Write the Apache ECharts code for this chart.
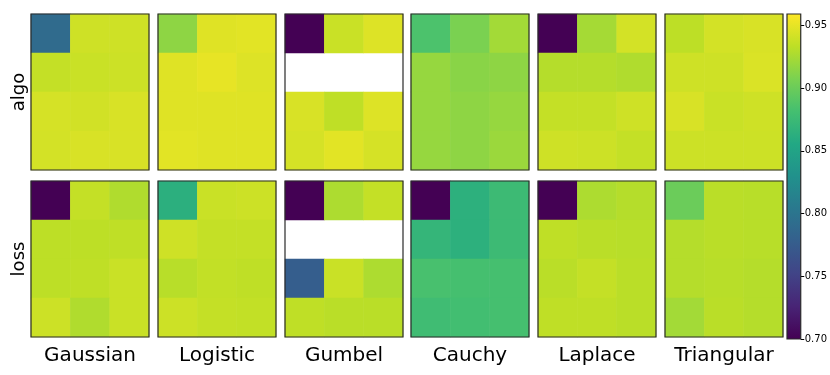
<!DOCTYPE html>
<html>
<head>
<meta charset="utf-8">
<script src="https://cdn.jsdelivr.net/npm/echarts@6/dist/echarts.min.js"></script>
<style>
  html, body { margin: 0; padding: 0; background: #fff; }
</style>
</head>
<body>
<div id="chart" style="width: 830px; height: 375px"></div>
<script>
// distributions (columns) and the two row groups
const distributions = ["Gaussian", "Logistic", "Gumbel", "Cauchy", "Laplace", "Triangular"];
const rowNames = ["algo", "loss"];
const colorbarTicks = [0.70, 0.75, 0.80, 0.85, 0.90, 0.95];

// every panel: 4 rows x 3 cols, null = missing cell
const algo_Gaussian = [
  [0.790, 0.940, 0.940],
  [0.936, 0.938, 0.939],
  [0.943, 0.941, 0.944],
  [0.942, 0.944, 0.944],
];
const algo_Logistic = [
  [0.915, 0.947, 0.948],
  [0.947, 0.950, 0.946],
  [0.947, 0.947, 0.947],
  [0.948, 0.947, 0.947],
];
const algo_Gumbel = [
  [0.70, 0.938, 0.946],
  [null, null, null],
  [0.944, 0.934, 0.946],
  [0.943, 0.948, 0.943],
];
const algo_Cauchy = [
  [0.885, 0.907, 0.923],
  [0.918, 0.913, 0.915],
  [0.918, 0.915, 0.918],
  [0.918, 0.915, 0.920],
];
const algo_Laplace = [
  [0.70, 0.924, 0.942],
  [0.930, 0.930, 0.928],
  [0.936, 0.936, 0.940],
  [0.940, 0.939, 0.936],
];
const algo_Triangular = [
  [0.933, 0.942, 0.944],
  [0.940, 0.940, 0.945],
  [0.944, 0.938, 0.940],
  [0.939, 0.939, 0.939],
];
const loss_Gaussian = [
  [0.70, 0.936, 0.928],
  [0.933, 0.933, 0.934],
  [0.933, 0.934, 0.938],
  [0.939, 0.928, 0.938],
];
const loss_Logistic = [
  [0.863, 0.938, 0.939],
  [0.940, 0.936, 0.936],
  [0.931, 0.935, 0.934],
  [0.939, 0.936, 0.935],
];
const loss_Gumbel = [
  [0.70, 0.927, 0.936],
  [null, null, null],
  [0.777, 0.938, 0.927],
  [0.934, 0.932, 0.932],
];
const loss_Cauchy = [
  [0.70, 0.864, 0.876],
  [0.870, 0.864, 0.876],
  [0.883, 0.882, 0.882],
  [0.878, 0.880, 0.882],
];
const loss_Laplace = [
  [0.70, 0.927, 0.930],
  [0.934, 0.932, 0.931],
  [0.932, 0.936, 0.932],
  [0.934, 0.934, 0.932],
];
const loss_Triangular = [
  [0.900, 0.932, 0.931],
  [0.930, 0.932, 0.931],
  [0.930, 0.931, 0.930],
  [0.923, 0.932, 0.930],
];

const panels = [
  [algo_Gaussian, algo_Logistic, algo_Gumbel, algo_Cauchy, algo_Laplace, algo_Triangular],
  [loss_Gaussian, loss_Logistic, loss_Gumbel, loss_Cauchy, loss_Laplace, loss_Triangular],
];

// colormap
const viridis = ["#440154", "#482475", "#414487", "#355f8d", "#2a788e", "#21918c",
                 "#22a884", "#44bf70", "#7ad151", "#bddf26", "#fde725"];
const vMin = 0.70, vMax = 0.959;

const chart = echarts.init(document.getElementById("chart"));
const lefts = [31, 158, 285, 411, 538, 665];
const tops = [14, 181];
const font = "DejaVu Sans";

const grids = [], xAxes = [], yAxes = [], series = [];
let idx = 0;
for (let r = 0; r < 2; r++) {
  for (let c = 0; c < 6; c++) {
    // border drawn above the cells
    grids.push({
      left: lefts[c], top: tops[r], width: 118, height: 156, z: 10,
      show: true, borderColor: "#2a2a2a", borderWidth: 1.2, backgroundColor: "transparent",
    });
    xAxes.push({
      type: "category", gridIndex: idx, data: ["0", "1", "2"],
      axisLine: { show: false }, axisTick: { show: false },
      axisLabel: { show: false }, splitLine: { show: false },
      name: r === 1 ? distributions[c] : "",
      nameLocation: "middle", nameGap: 9,
      nameTextStyle: { fontFamily: font, fontSize: 20, color: "#000", verticalAlign: "top" },
    });
    yAxes.push({
      type: "category", gridIndex: idx, inverse: true, data: ["0", "1", "2", "3"],
      axisLine: { show: false }, axisTick: { show: false },
      axisLabel: { show: false }, splitLine: { show: false },
      name: c === 0 ? rowNames[r] : "",
      nameLocation: "middle", nameGap: 3, nameRotate: 90,
      nameTextStyle: { fontFamily: font, fontSize: 18, color: "#000" },
    });
    const cells = [];
    panels[r][c].forEach((row, y) => row.forEach((v, x) => {
      if (v !== null) cells.push([x, y, v]);
    }));
    series.push({
      type: "heatmap", xAxisIndex: idx, yAxisIndex: idx, data: cells,
      emphasis: { disabled: true }, z: 1,
    });
    idx++;
  }
}

// colorbar as its own grid with a gradient bar
grids.push({
  left: 787, top: 14, width: 17, height: 325, z: 10,
  show: true, borderColor: "#2a2a2a", borderWidth: 1.2, backgroundColor: "transparent",
});
xAxes.push({
  type: "category", gridIndex: idx, data: ["cb"], show: false,
});
yAxes.push({
  type: "value", gridIndex: idx, position: "right", min: vMin, max: vMax,
  axisLine: { show: false }, splitLine: { show: false },
  axisTick: { show: true, length: 3.5, lineStyle: { color: "#000" }, customValues: colorbarTicks },
  axisLabel: {
    show: true, fontFamily: font, fontSize: 10, color: "#000", margin: 4,
    customValues: colorbarTicks, formatter: (v) => v.toFixed(2),
  },
});
series.push({
  type: "bar", xAxisIndex: idx, yAxisIndex: idx, data: [vMax], barWidth: "100%",
  silent: true, z: 1,
  itemStyle: {
    color: new echarts.graphic.LinearGradient(0, 1, 0, 0,
      viridis.map((col, i) => ({ offset: i / (viridis.length - 1), color: col }))),
  },
});

chart.setOption({
  animation: false,
  grid: grids,
  xAxis: xAxes,
  yAxis: yAxes,
  visualMap: {
    type: "continuous", show: false, min: vMin, max: vMax,
    seriesIndex: Array.from({ length: 12 }, (_, i) => i),
    inRange: { color: viridis },
  },
  series: series,
});
</script>
</body>
</html>
